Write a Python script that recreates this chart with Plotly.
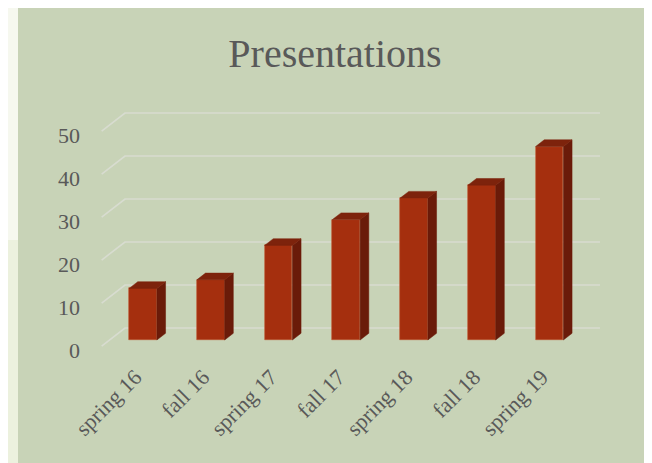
import plotly.graph_objects as go

categories = ["spring 16", "fall 16", "spring 17", "fall 17", "spring 18", "fall 18", "spring 19"]
values = [12, 14, 22, 28, 33, 36, 45]
y_ticks = [0, 10, 20, 30, 40, 50]

# perspective constants (data units)
BAR_W = 0.41
BAR_DX, BAR_DY = 0.128, 1.56      # bar depth
FLOOR_FRONT_DX, FLOOR_FRONT_DY = -0.115, -1.4   # front edge of floor relative to bar front
WALL_DX, WALL_DY = 0.344, 4.19    # floor depth to back wall
GRID_X0, GRID_X1 = -0.61, 6.745
LABEL_DY = -0.9

FRONT = "#a52f0e"
TOP = "#7d230c"
SIDE = "#6a1b09"
TXT = "#595959"
GRID = "#d8dcd0"
PANEL = "#c8d3b7"
FONT = "Liberation Serif"

fig = go.Figure()

xs = list(range(len(categories)))
fig.add_trace(go.Bar(x=xs, y=values, width=BAR_W,
                     marker=dict(color=FRONT, line=dict(color="#c0562f", width=0.6)),
                     showlegend=False))

sx, sy, tx, ty = [], [], [], []
for i, v in zip(xs, values):
    xl, xr = i - BAR_W / 2, i + BAR_W / 2
    sx += [xr, xr + BAR_DX, xr + BAR_DX, xr, xr, None]
    sy += [0, BAR_DY, v + BAR_DY, v, 0, None]
    tx += [xl, xl + BAR_DX, xr + BAR_DX, xr, xl, None]
    ty += [v, v + BAR_DY, v + BAR_DY, v, v, None]
fig.add_trace(go.Scatter(x=sx, y=sy, mode="lines", fill="toself", fillcolor=SIDE,
                         line=dict(color=SIDE, width=0.5), hoverinfo="skip", showlegend=False))
fig.add_trace(go.Scatter(x=tx, y=ty, mode="lines", fill="toself", fillcolor=TOP,
                         line=dict(color=TOP, width=0.5), hoverinfo="skip", showlegend=False))

OFF = 8  # page body margin
W, H = 652 - OFF, 463 - OFF
L, T = 84 - OFF, 100 - OFF
R = W - (610 - OFF)
B = H - (352 - OFF)
pw, ph = W - L - R, H - T - B

def px_x(p):
    return (p - OFF - L) / pw

def px_y(p):
    return (H - B - (p - OFF)) / ph

shapes = [
    dict(type="rect", xref="paper", yref="paper", x0=px_x(-20), x1=px_x(18), y0=px_y(240), y1=px_y(-20),
         fillcolor="#f6f8ef", line=dict(width=0), layer="below"),
    dict(type="rect", xref="paper", yref="paper", x0=px_x(-20), x1=px_x(18), y0=px_y(H + 60), y1=px_y(240),
         fillcolor="#ecf1de", line=dict(width=0), layer="below"),
]
for g in y_ticks:
    yf = g + FLOOR_FRONT_DY
    shapes.append(dict(type="path", xref="x", yref="y", layer="below",
                       path=f"M {GRID_X0},{yf} L {GRID_X0 + WALL_DX},{yf + WALL_DY} L {GRID_X1},{yf + WALL_DY}",
                       line=dict(color=GRID, width=1.6)))

fig.update_layout(
    width=W, height=H,
    margin=dict(l=L, r=R, t=T, b=B),
    paper_bgcolor=PANEL,
    plot_bgcolor="rgba(0,0,0,0)",
    shapes=shapes,
    title=dict(text="Presentations", x=(335 - OFF) / W, xref="container", xanchor="center",
               y=1 - (53 - OFF) / H, yref="container", yanchor="middle",
               font=dict(family=FONT, size=40, color=TXT)),
    xaxis=dict(range=[(84 - 143) / 67.75, (610 - 143) / 67.75],
               tickvals=[i + FLOOR_FRONT_DX for i in xs], ticktext=categories,
               tickangle=-45, showgrid=False, zeroline=False, showline=False, ticks="",
               ticklabelstandoff=7, automargin=False,
               tickfont=dict(family=FONT, size=22, color=TXT)),
    yaxis=dict(range=[(340 - 352) / 4.3, (340 - 100) / 4.3],
               tickvals=[g + FLOOR_FRONT_DY + LABEL_DY for g in y_ticks], ticktext=[str(g) for g in y_ticks],
               showgrid=False, zeroline=False, showline=False, ticks="",
               ticklabelstandoff=3, automargin=False,
               tickfont=dict(family=FONT, size=22, color=TXT)),
    bargap=0,
)

fig.write_html("out.html")
